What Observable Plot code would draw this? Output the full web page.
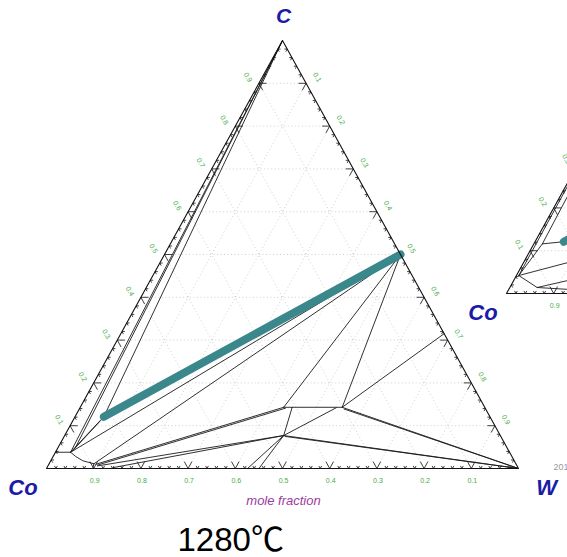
<!DOCTYPE html>
<html><head><meta charset="utf-8">
<script src="https://cdn.jsdelivr.net/npm/d3@7"></script>
<script src="https://cdn.jsdelivr.net/npm/@observablehq/plot@0.6"></script>
<style>html,body{margin:0;padding:0;overflow:hidden;background:#fff}</style>
</head><body><div id="chart"></div>
<script>
// Compositions are [W mole fraction, C mole fraction]; Co = 1 - W - C
const triangleEdge = [[0, 0], [1, 0], [0, 1], [0, 0]];
const tealSection = [[0.061, 0.121], [0.5, 0.5]];

// phase boundaries / tie-triangle edges, main diagram (1280 °C)
const nearEdgeLines = [
  [[0, 1], [0.032, 0.038]],
  [[0, 1], [0.037, 0.048]],
  [[0, 1], [0.061, 0.121]],
  [[0.061, 0.121], [0.032, 0.038]],
  [[0.058, 0.110], [0.034, 0.040]]
];
const liquidCornerLines = [
  [[0, 0.038], [0.032, 0.038]],
  [[0.032, 0.038], [0.048, 0.028], [0.068, 0.018], [0.095, 0.011]],
  [[0.095, 0.011], [0.098, 0]]
];
const wcFanLines = [
  [[0.5, 0.5], [0.032, 0.038]],
  [[0.5, 0.5], [0.095, 0.011]],
  [[0.5, 0.5], [0.431, 0.143]],
  [[0.5, 0.5], [0.555, 0.143]],
  [[0.685, 0.315], [0.555, 0.143]]
];
const lowerLines = [
  [[0.431, 0.143], [0.555, 0.143]],
  [[0.449, 0.143], [0.464, 0.077], [0.450, 0]],
  [[0.464, 0.077], [0.426, 0]],
  [[0.464, 0.077], [0.543, 0.142]],
  [[0.431, 0.143], [0.100, 0.010]],
  [[0.436, 0.141], [0.104, 0.008]],
  [[0.464, 0.077], [0.105, 0.006]],
  [[0.464, 0.077], [0.140, 0.002]],
  [[0.555, 0.143], [1, 0]],
  [[0.561, 0.139], [1, 0]],
  [[0.464, 0.077], [1, 0]],
  [[0.468, 0.075], [1, 0]]
];
// partially visible neighbouring diagram at the right edge
const insetLines = [
  [[0, 1], [0.005, 0.042]],
  [[0, 1], [0.018, 0.116]],
  [[0.005, 0.042], [0.018, 0.116]],
  [[0.018, 0.116], [0.061, 0.121]],
  [[0.005, 0.042], [0.102, 0.075]],
  [[0.005, 0.042], [0.058, 0.014], [0.124, 0.033]],
  [[0.058, 0.014], [0.135, 0.009]]
];

const gridFractions = [0.1, 0.2, 0.3, 0.4, 0.5, 0.6, 0.7, 0.8, 0.9];
const leftTickLabels = ["0.1", "0.2", "0.3", "0.4", "0.5", "0.6", "0.7", "0.8", "0.9"];
const rightTickLabels = ["0.9", "0.8", "0.7", "0.6", "0.5", "0.4", "0.3", "0.2", "0.1"];
const bottomTickLabels = ["0.9", "0.8", "0.7", "0.6", "0.5", "0.4", "0.3", "0.2", "0.1"];
const insetLeftLabelCount = 3;   // only 0.1–0.3 of the neighbour diagram are in view
const insetBottomLabelCount = 1; // only 0.9
const vertexLabels = ["Co", "W", "C"];
const axisTitle = "mole fraction";
const temperatureLabel = "1280\u2103";
const stampText = "2014";

// ---- helpers (ternary projection) ----
const proj = ([w, c]) => [w + c / 2, c];
const flat = (lines) => lines.flatMap((pts, i) => pts.map(p => { const [x, y] = proj(p); return {i, x, y}; }));
const seg = (a, b) => { const [x1, y1] = proj(a), [x2, y2] = proj(b); return {x1, y1, x2, y2}; };

const grid = gridFractions.flatMap(f => [
  seg([0, f], [1 - f, f]),
  seg([f, 0], [f, 1 - f]),
  seg([1 - f, 0], [0, 1 - f])
]);
const tickPos = d3.range(1, 50).map(k => k / 50);
const ticks = tickPos.flatMap(f => {
  const L = Math.abs(f * 10 - Math.round(f * 10)) < 1e-6 ? 0.016 : 0.006;
  return [
    seg([f, 0], [f, L]), seg([f, 0], [f - L, L]),
    seg([0, f], [L, f]), seg([0, f], [L, f - L]),
    seg([1 - f, f], [1 - f - L, f]), seg([1 - f, f], [1 - f, f - L])
  ];
});
const leftLab = gridFractions.map((f, i) => { const [x, y] = proj([0, f]); return {x, y, t: leftTickLabels[i]}; });
const rightLab = gridFractions.map((f, i) => { const [x, y] = proj([1 - f, f]); return {x, y, t: rightTickLabels[i]}; });
const bottomLab = gridFractions.map((f, i) => { const [x, y] = proj([f, 0]); return {x, y, t: bottomTickLabels[i]}; });

const LINE = "#1a1a1a", GREEN = "#45ad45", BLUE = "#1b1ba8";
const font = "Liberation Sans, Arial, sans-serif";

function diagram(ox, oy, lines, main) {
  const o = {dx: ox, dy: oy};
  const lLab = main ? leftLab : leftLab.slice(0, insetLeftLabelCount);
  const bLab = main ? bottomLab : bottomLab.slice(0, insetBottomLabelCount);
  const m = [
    Plot.link(grid, {x1: "x1", y1: "y1", x2: "x2", y2: "y2", stroke: "#c4c4c4", strokeWidth: 0.8, strokeDasharray: "1,2.5", ...o}),
    Plot.link(ticks, {x1: "x1", y1: "y1", x2: "x2", y2: "y2", stroke: "#111", strokeWidth: 0.8, ...o}),
    Plot.line(flat(lines), {x: "x", y: "y", z: "i", stroke: LINE, strokeWidth: 0.9, ...o}),
    Plot.line(flat([tealSection]), {x: "x", y: "y", stroke: "#3a878c", strokeWidth: 8, strokeLinecap: "round", ...o}),
    Plot.line(flat([triangleEdge]), {x: "x", y: "y", stroke: "#111", strokeWidth: 1.1, ...o}),
    Plot.text(lLab, {x: "x", y: "y", text: "t", fill: GREEN, fontSize: 7, fontFamily: font, rotate: 60, dx: ox - 11, dy: oy - 6}),
    Plot.text(bLab, {x: "x", y: "y", text: "t", fill: GREEN, fontSize: 7, fontFamily: font, dx: ox + 1, dy: oy + 12}),
    Plot.text([proj([0, 0])], {x: d => d[0], y: d => d[1], text: [vertexLabels[0]], fill: BLUE, fontSize: 22, fontWeight: "bold", fontStyle: "italic", fontFamily: font, dx: ox - 23.5, dy: oy + 19.5})
  ];
  if (main) {
    m.push(
      Plot.text(rightLab, {x: "x", y: "y", text: "t", fill: GREEN, fontSize: 7, fontFamily: font, rotate: 60, dx: 11, dy: -6}),
      Plot.text([proj([1, 0])], {x: d => d[0], y: d => d[1], text: [vertexLabels[1]], fill: BLUE, fontSize: 22, fontWeight: "bold", fontStyle: "italic", fontFamily: font, dx: 28, dy: 19.5}),
      Plot.text([proj([0, 1])], {x: d => d[0], y: d => d[1], text: [vertexLabels[2]], fill: BLUE, fontSize: 21, fontWeight: "bold", fontStyle: "italic", fontFamily: font, dx: 1, dy: -24}),
      Plot.text([proj([0.5, 0])], {x: d => d[0], y: d => d[1], text: [axisTitle], fill: "#9a3a9e", fontSize: 13, fontStyle: "italic", fontFamily: font, dx: 1, dy: 32}),
      Plot.text([proj([0.5, 0])], {x: d => d[0], y: d => d[1], text: [temperatureLabel], fill: "#000", fontSize: 33, fontFamily: "Liberation Sans, Arial, Noto Sans CJK SC, sans-serif", textAnchor: "start", dx: -105, dy: 72}),
      Plot.text([proj([1, 0])], {x: d => d[0], y: d => d[1], text: [stampText], fill: "#9a9a9a", fontSize: 9, fontFamily: font, textAnchor: "start", dx: 35, dy: -1})
    );
  }
  return m;
}

const chart = Plot.plot({
  width: 567,
  height: 557,
  margin: 0,
  style: {background: "#fff", overflow: "hidden"},
  x: {domain: [0, 1], range: [46, 518], axis: null},
  y: {domain: [0, 1], range: [468, 40], axis: null},
  marks: [
    ...diagram(460, -175, insetLines, false),
    ...diagram(0, 0, [...nearEdgeLines, ...liquidCornerLines, ...wcFanLines, ...lowerLines], true)
  ]
});
document.getElementById("chart").appendChild(chart);
</script>
</body></html>
